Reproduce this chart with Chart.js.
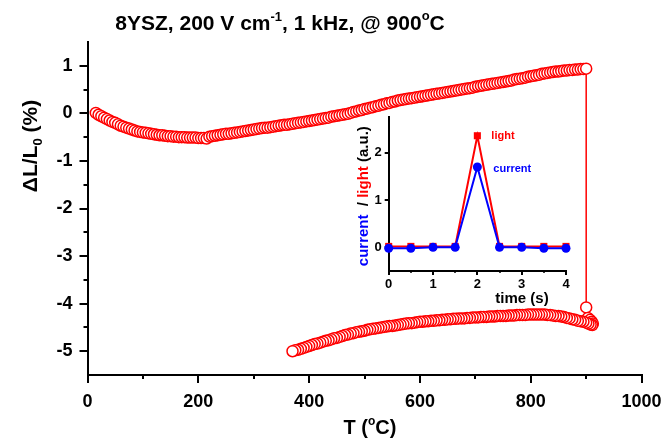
<!DOCTYPE html>
<html>
<head>
<meta charset="utf-8">
<script src="https://cdn.jsdelivr.net/npm/chart.js@4"></script>
<style>
html, body { margin: 0; padding: 0; background: #fff; }
#wrap { position: relative; width: 672px; height: 441px; }
#main { position: absolute; left: 0; top: 0; }
#inset { position: absolute; left: 330px; top: 100px; }
</style>
</head>
<body>
<div id="wrap">
<canvas id="main" width="672" height="441"></canvas>
<canvas id="inset" width="260" height="210"></canvas>
</div>
<script>
const FONT = "'Liberation Sans', Arial, sans-serif";

// heating run, T (C) and dL/L0 (%)
const heatT = [
  15,20,25,30,35,40,45,50,55,60,65,70,75,80,85,90,95,100,105,110,
  115,120,125,130,135,140,145,150,155,160,165,170,175,180,185,190,195,200,205,210,
  215,220,225,230,235,240,245,250,255,260,265,270,275,280,285,290,295,300,305,310,
  315,320,325,330,335,340,345,350,355,360,365,370,375,380,385,390,395,400,405,410,
  415,420,425,430,435,440,445,450,455,460,465,470,475,480,485,490,495,500,505,510,
  515,520,525,530,535,540,545,550,555,560,565,570,575,580,585,590,595,600,605,610,
  615,620,625,630,635,640,645,650,655,660,665,670,675,680,685,690,695,700,705,710,
  715,720,725,730,735,740,745,750,755,760,765,770,775,780,785,790,795,800,805,810,
  815,820,825,830,835,840,845,850,855,860,865,870,875,880,885,890,895,900
];
const heatDL = [
  0.01,-0.03,-0.06,-0.09,-0.12,-0.15,-0.18,-0.20,-0.23,-0.26,-0.28,-0.30,-0.32,-0.34,-0.36,-0.38,-0.39,-0.40,-0.41,-0.42,
  -0.43,-0.44,-0.45,-0.46,-0.46,-0.47,-0.48,-0.48,-0.49,-0.49,-0.50,-0.50,-0.50,-0.51,-0.51,-0.51,-0.51,-0.52,-0.52,-0.52,
  -0.53,-0.49,-0.48,-0.47,-0.46,-0.45,-0.44,-0.43,-0.43,-0.42,-0.41,-0.40,-0.39,-0.38,-0.37,-0.36,-0.35,-0.34,-0.33,-0.32,
  -0.31,-0.30,-0.30,-0.29,-0.28,-0.27,-0.26,-0.25,-0.24,-0.24,-0.23,-0.22,-0.21,-0.20,-0.19,-0.18,-0.17,-0.16,-0.15,-0.14,
  -0.13,-0.12,-0.11,-0.10,-0.09,-0.07,-0.06,-0.05,-0.04,-0.03,-0.02,-0.01,0.01,0.03,0.04,0.06,0.07,0.09,0.10,0.12,
  0.13,0.15,0.16,0.18,0.19,0.21,0.22,0.24,0.25,0.27,0.28,0.29,0.30,0.31,0.32,0.33,0.34,0.35,0.36,0.37,
  0.38,0.39,0.40,0.41,0.42,0.43,0.44,0.45,0.46,0.47,0.48,0.49,0.50,0.51,0.52,0.53,0.54,0.56,0.57,0.58,
  0.59,0.60,0.61,0.62,0.63,0.64,0.65,0.66,0.67,0.68,0.69,0.71,0.72,0.73,0.74,0.75,0.77,0.78,0.79,0.80,
  0.81,0.83,0.84,0.85,0.86,0.87,0.88,0.88,0.89,0.90,0.90,0.91,0.91,0.92,0.92,0.93,0.93,0.94
];

// field on at 900 C: sudden shrinkage
const dropT = [900, 903, 907, 910, 912, 911, 908, 904];
const dropDL = [-4.08, -4.30, -4.34, -4.38, -4.42, -4.45, -4.44, -4.42];

// cooling run
const coolT = [
  900,895,890,885,880,875,870,865,860,855,850,845,840,835,830,825,820,815,810,805,
  800,795,790,785,780,775,770,765,760,755,750,745,740,735,730,725,720,715,710,705,
  700,695,690,685,680,675,670,665,660,655,650,645,640,635,630,625,620,615,610,605,
  600,595,590,585,580,575,570,565,560,555,550,545,540,535,530,525,520,515,510,505,
  500,495,490,485,480,475,470,465,460,455,450,445,440,435,430,425,420,415,410,405,
  400,395,390,385,380,375,370
];
const coolDL = [
  -4.40,-4.38,-4.37,-4.36,-4.34,-4.33,-4.31,-4.30,-4.28,-4.27,-4.26,-4.26,-4.25,-4.24,-4.24,-4.23,-4.23,-4.23,-4.23,-4.23,
  -4.23,-4.23,-4.24,-4.24,-4.24,-4.24,-4.25,-4.25,-4.25,-4.26,-4.26,-4.26,-4.26,-4.27,-4.27,-4.27,-4.28,-4.28,-4.28,-4.29,
  -4.29,-4.29,-4.30,-4.30,-4.31,-4.31,-4.31,-4.32,-4.32,-4.33,-4.33,-4.34,-4.34,-4.35,-4.35,-4.36,-4.36,-4.37,-4.37,-4.38,
  -4.38,-4.39,-4.40,-4.41,-4.41,-4.42,-4.43,-4.44,-4.45,-4.46,-4.47,-4.47,-4.48,-4.49,-4.50,-4.51,-4.52,-4.53,-4.54,-4.55,
  -4.57,-4.58,-4.59,-4.60,-4.62,-4.63,-4.65,-4.66,-4.68,-4.70,-4.72,-4.73,-4.75,-4.77,-4.78,-4.80,-4.82,-4.84,-4.85,-4.87,
  -4.89,-4.91,-4.93,-4.95,-4.97,-4.98,-5.00
];

const mainYTicks = [-5, -4, -3, -2, -1, 0, 1];
const mainXMinor = [100, 300, 500, 700, 900];
const mainYMinor = [-4.5, -3.5, -2.5, -1.5, -0.5, 0.5];

// inset: time (s), current and light (a.u.)
const timeS = [0, 0.5, 1, 1.5, 2, 2.5, 3, 3.5, 4];
const currentVals = [-0.02, -0.02, 0, 0, 1.70, 0, 0, -0.02, -0.02];
const lightVals = [0.02, 0.02, 0.02, 0.02, 2.36, 0.02, 0.02, 0.02, 0.02];
const insetYTicks = [0, 1, 2];
const insetXMinor = [0.5, 1.5, 2.5, 3.5];

const toPts = (xs, ys) => xs.map((x, i) => ({ x: x, y: ys[i] }));
const mainPts = toPts(heatT, heatDL).concat(toPts(dropT, dropDL), toPts(coolT, coolDL));

// draw a row of text pieces [text, size, dy, color], centred on x
function richText(ctx, parts, x, y, rot) {
  ctx.save();
  ctx.translate(x, y);
  if (rot) ctx.rotate(rot);
  ctx.textAlign = 'left';
  ctx.textBaseline = 'alphabetic';
  let w = 0;
  parts.forEach(p => { ctx.font = 'bold ' + p[1] + 'px ' + FONT; w += ctx.measureText(p[0]).width; });
  let cx = -w / 2;
  parts.forEach(p => {
    ctx.font = 'bold ' + p[1] + 'px ' + FONT;
    ctx.fillStyle = p[3] || '#000';
    ctx.fillText(p[0], cx, p[2]);
    cx += ctx.measureText(p[0]).width;
  });
  ctx.restore();
}

const minorTicks = {
  id: 'minorTicks',
  afterDraw(chart, args, opts) {
    const ctx = chart.ctx, a = chart.chartArea;
    const xs = chart.scales.x, ys = chart.scales.y;
    ctx.save();
    ctx.strokeStyle = '#000';
    ctx.lineWidth = opts.width;
    opts.x.forEach(v => {
      const px = Math.round(xs.getPixelForValue(v));
      ctx.beginPath(); ctx.moveTo(px, a.bottom); ctx.lineTo(px, a.bottom + opts.len); ctx.stroke();
    });
    opts.y.forEach(v => {
      const py = Math.round(ys.getPixelForValue(v));
      ctx.beginPath(); ctx.moveTo(a.left, py); ctx.lineTo(a.left - opts.len, py); ctx.stroke();
    });
    ctx.restore();
  }
};

const mainText = {
  id: 'mainText',
  afterDraw(chart) {
    const ctx = chart.ctx;
    richText(ctx, [['8YSZ, 200 V cm', 21, 0], ['-1', 13, -9], [', 1 kHz, @ 900', 21, 0], ['o', 13, -10], ['C', 21, 0]], 280, 30);
    richText(ctx, [['T (', 20, 0], ['o', 12, -9], ['C)', 20, 0]], 370, 434);
    richText(ctx, [['\u0394L/L', 21, 0], ['0', 13, 5], [' (%)', 21, 0]], 37, 146, -Math.PI / 2);
  }
};

const insetText = {
  id: 'insetText',
  afterDraw(chart) {
    const ctx = chart.ctx, a = chart.chartArea;
    const xs = chart.scales.x, ys = chart.scales.y;
    richText(ctx, [['current', 15, 0, '#0000ff'], ['  / ', 15, 0, '#000'], ['light', 15, 0, '#ff0000'], [' (a.u.)', 15, 0, '#000']],
      a.left - 21, (a.top + a.bottom) / 2 + 2, -Math.PI / 2);
    richText(ctx, [['time (s)', 15, 0]], 192, 203);
    const px = xs.getPixelForValue(2);
    ctx.save();
    ctx.font = 'bold 11px ' + FONT;
    ctx.textAlign = 'left';
    ctx.textBaseline = 'middle';
    ctx.fillStyle = '#ff0000';
    ctx.fillText('light', px + 14, ys.getPixelForValue(2.36));
    ctx.fillStyle = '#0000ff';
    ctx.fillText('current', px + 16, ys.getPixelForValue(1.65));
    ctx.restore();
  }
};

const tickFont = { family: FONT, size: 18, weight: 'bold' };
const axisGrid = { drawOnChartArea: false, drawTicks: true, tickLength: 8, color: '#000', lineWidth: 2 };
const axisBorder = { display: true, color: '#000', width: 2 };
const plainNum = v => String(v);

new Chart(document.getElementById('main'), {
  type: 'line',
  data: {
    datasets: [{
      data: mainPts,
      borderColor: '#ff0000',
      borderWidth: 1.5,
      pointRadius: 5.5,
      pointBorderWidth: 1.5,
      pointBorderColor: '#ff0000',
      pointBackgroundColor: '#ffffff',
      tension: 0,
      clip: false
    }]
  },
  options: {
    responsive: false,
    animation: false,
    events: [],
    layout: { padding: { left: 0, right: 30.4, top: 42, bottom: 0 } },
    plugins: {
      legend: { display: false },
      tooltip: { enabled: false },
      minorTicks: { x: mainXMinor, y: mainYMinor, len: 4, width: 2 }
    },
    scales: {
      x: {
        type: 'linear', min: 0, max: 1000,
        ticks: { stepSize: 200, color: '#000', font: tickFont, padding: 8, maxRotation: 0, callback: plainNum },
        grid: axisGrid,
        border: axisBorder,
        afterFit(s) { s.height = 66; }
      },
      y: {
        type: 'linear', min: -5.5, max: 1.5,
        afterBuildTicks(s) { s.ticks = mainYTicks.map(v => ({ value: v })); },
        ticks: { color: '#000', font: tickFont, padding: 7, callback: plainNum },
        grid: axisGrid,
        border: axisBorder,
        afterFit(s) { s.width = 87.5; }
      }
    }
  },
  plugins: [minorTicks, mainText]
});

const insetFont = { family: FONT, size: 13, weight: 'bold' };
const insetGrid = { drawOnChartArea: false, drawTicks: true, tickLength: 4, color: '#000', lineWidth: 2 };

new Chart(document.getElementById('inset'), {
  type: 'line',
  data: {
    datasets: [{
      label: 'current',
      data: toPts(timeS, currentVals),
      borderColor: '#0000ff',
      borderWidth: 2,
      pointStyle: 'circle',
      pointRadius: 4.5,
      pointBorderWidth: 0,
      pointBackgroundColor: '#0000ff',
      tension: 0,
      clip: false
    }, {
      label: 'light',
      data: toPts(timeS, lightVals),
      borderColor: '#ff0000',
      borderWidth: 2,
      pointStyle: 'rect',
      pointRadius: 5,
      pointBorderWidth: 0,
      pointBackgroundColor: '#ff0000',
      tension: 0,
      clip: false
    }]
  },
  options: {
    responsive: false,
    animation: false,
    events: [],
    layout: { padding: { left: 0, right: 24, top: 17.3, bottom: 0 } },
    plugins: {
      legend: { display: false },
      tooltip: { enabled: false },
      minorTicks: { x: insetXMinor, y: [], len: 2, width: 1.5 }
    },
    scales: {
      x: {
        type: 'linear', min: 0, max: 4,
        ticks: { stepSize: 1, color: '#000', font: insetFont, padding: 2, maxRotation: 0, callback: plainNum },
        grid: insetGrid,
        border: axisBorder,
        afterFit(s) { s.height = 39; }
      },
      y: {
        type: 'linear', min: -0.5, max: 2.75,
        afterBuildTicks(s) { s.ticks = insetYTicks.map(v => ({ value: v })); },
        ticks: { color: '#000', font: insetFont, padding: 3, callback: plainNum },
        grid: insetGrid,
        border: axisBorder,
        afterFit(s) { s.width = 58.7; }
      }
    }
  },
  plugins: [minorTicks, insetText]
});
</script>
</body>
</html>
